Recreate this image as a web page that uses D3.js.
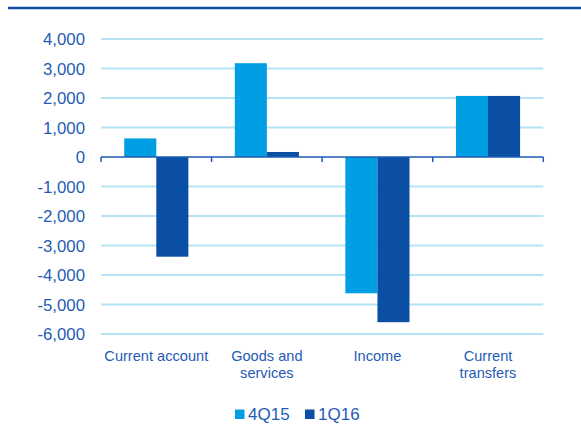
<!DOCTYPE html>
<html><head><meta charset="utf-8">
<script src="https://cdn.jsdelivr.net/npm/d3@7"></script>
<style>body{margin:0;background:#fff}svg{display:block}text{font-family:"Liberation Sans",Arial,sans-serif}</style>
</head><body><svg id="c" width="581" height="425"></svg>
<script>
const categories = [["Current account"], ["Goods and", "services"], ["Income"], ["Current", "transfers"]];
const seriesNames = ["4Q15", "1Q16"];
const values4Q15 = [630, 3180, -4620, 2070];
const values1Q16 = [-3380, 170, -5600, 2070];
const yTicks = [4000, 3000, 2000, 1000, 0, -1000, -2000, -3000, -4000, -5000, -6000];
const colors = ["#009fe3", "#0a4fa3"];

const svg = d3.select("#c");
const textColor = "#1f5bb5";
const left = 101, right = 543.3;
const y = d3.scaleLinear().domain([-6000, 4000]).range([334, 39]);
const x0 = d3.scaleBand().domain(d3.range(categories.length)).range([left, right]).paddingInner(0.42).paddingOuter(0.21);
const x1 = d3.scaleBand().domain([0, 1]).range([0, x0.bandwidth()]);

// top rule
svg.append("line").attr("x1", 8).attr("x2", 581).attr("y1", 8).attr("y2", 8).attr("stroke", "#0b4ea2").attr("stroke-width", 2.5);

// gridlines
svg.append("g").selectAll("line").data(yTicks.filter(d => d !== 0)).join("line")
  .attr("x1", left).attr("x2", right).attr("y1", d => y(d)).attr("y2", d => y(d))
  .attr("stroke", "#b6e2f5").attr("stroke-width", 2);

// y labels
const fmt = d => d3.format(",")(d).replace("\u2212", "-");
svg.append("g").selectAll("text").data(yTicks).join("text")
  .attr("x", 85).attr("y", d => y(d)).attr("dy", "0.36em").attr("text-anchor", "end")
  .attr("fill", textColor).attr("font-size", 16.8).text(d => fmt(d));

// bars
const series = [values4Q15, values1Q16];
series.forEach((vals, s) => {
  svg.append("g").selectAll("rect").data(vals).join("rect")
    .attr("x", (d, i) => x0(i) + x1(s)).attr("width", x1.bandwidth())
    .attr("y", d => y(Math.max(0, d))).attr("height", d => Math.abs(y(d) - y(0)))
    .attr("fill", colors[s]);
});

// zero axis
const ax = svg.append("g").attr("transform", `translate(0,${y(0)})`);
ax.append("line").attr("x1", left).attr("x2", right).attr("stroke", "#1f5bb5").attr("stroke-width", 1.5);
const tickXs = d3.range(categories.length + 1).map(i => left + i * x0.step());
ax.selectAll("line.t").data(tickXs).join("line").attr("class", "t")
  .attr("x1", d => d).attr("x2", d => d).attr("y1", 0).attr("y2", 5)
  .attr("stroke", "#1f5bb5").attr("stroke-width", 1.5);

// category labels
categories.forEach((lines, i) => {
  const cx = x0(i) + x0.bandwidth() / 2;
  const t = svg.append("text").attr("x", cx).attr("y", 361)
    .attr("text-anchor", "middle").attr("fill", textColor).attr("font-size", 14.6);
  lines.forEach((l, j) => t.append("tspan").attr("x", cx).attr("dy", j ? 17 : 0).text(l));
});

// legend
const lg = svg.append("g");
const legX = [235, 305];
seriesNames.forEach((n, i) => {
  lg.append("rect").attr("x", legX[i]).attr("y", 409.5).attr("width", 9.5).attr("height", 9.5).attr("fill", colors[i]);
  lg.append("text").attr("x", legX[i] + 13).attr("y", 420).attr("fill", textColor).attr("font-size", 17).text(n);
});
</script></body></html>
